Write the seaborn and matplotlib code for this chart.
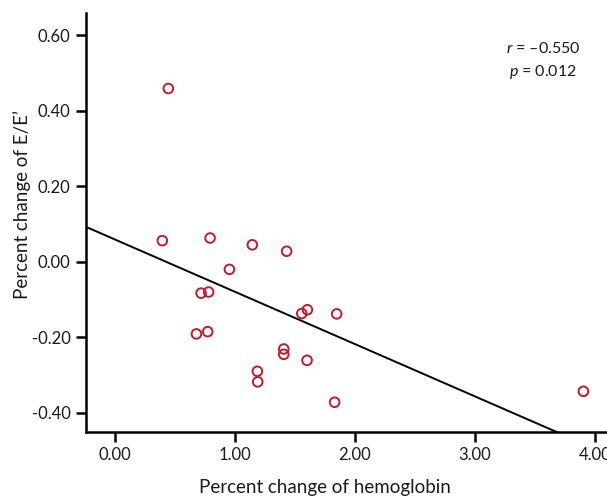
import matplotlib
matplotlib.use("Agg")
import matplotlib.pyplot as plt
import seaborn as sns
import pandas as pd

# Data
hemoglobin_change = [0.444, 0.394, 0.792, 1.144, 1.430, 0.953, 0.717, 0.780, 0.678, 0.772,
                     1.186, 1.189, 1.406, 1.406, 1.556, 1.603, 1.847, 1.600, 1.830, 3.903]
ee_change = [0.459, 0.056, 0.063, 0.045, 0.028, -0.020, -0.083, -0.080, -0.191, -0.185,
             -0.290, -0.318, -0.231, -0.245, -0.137, -0.127, -0.138, -0.261, -0.372, -0.343]
x_ticks = [0.0, 1.0, 2.0, 3.0, 4.0]
y_ticks = [-0.40, -0.20, 0.00, 0.20, 0.40, 0.60]
annotation = "$r$ = \u20130.550\n$p$ = 0.012"

df = pd.DataFrame({"hb": hemoglobin_change, "ee": ee_change})

sns.set_theme(style="white")
plt.rcParams["font.family"] = ["Lato", "DejaVu Sans"]
plt.rcParams["mathtext.fontset"] = "custom"
plt.rcParams["mathtext.it"] = "Lato:italic"
plt.rcParams["mathtext.rm"] = "Lato"

W, H = 607, 499
fig = plt.figure(figsize=(W / 100, H / 100), dpi=100)
left, right, top, bottom = 86, 607, 13, 431.7
ax = fig.add_axes([left / W, 1 - bottom / H, (right - left) / W, (bottom - top) / H])

ax.set_xlim(-0.242, 4.1)
ax.set_ylim(-0.450, 0.659)

sns.regplot(data=df, x="hb", y="ee", ax=ax, ci=None, truncate=False,
            marker="o",
            scatter_kws=dict(s=48, facecolors="none", edgecolors="#c41a30", linewidths=1.4,
                             alpha=1, zorder=3),
            line_kws=dict(color="black", linewidth=1.4, zorder=2))

ax.set_xlim(-0.242, 4.1)
ax.set_ylim(-0.450, 0.659)
ax.set_xticks(x_ticks)
ax.set_xticklabels([f"{v:.2f}" for v in x_ticks])
ax.set_yticks(y_ticks)
ax.set_yticklabels([f"{v:.2f}" for v in y_ticks])

for s in ["top", "right"]:
    ax.spines[s].set_visible(False)
for s in ["left", "bottom"]:
    ax.spines[s].set_linewidth(1.8)
    ax.spines[s].set_color("black")

ax.tick_params(axis="both", which="major", direction="out", length=7, width=1.8,
               color="black", labelsize=12, labelcolor="#1a1a1a", pad=4, bottom=True, left=True)

ax.set_xlabel("Percent change of hemoglobin", fontsize=13.5, color="#1a1a1a")
ax.set_ylabel("Percent change of E/E\u2019", fontsize=13.5, color="#1a1a1a")
ax.xaxis.set_label_coords((325 - left) / (right - left), -(487 - bottom) / (bottom - top), transform=ax.transAxes)
ax.yaxis.set_label_coords((22 - left) / (right - left), (bottom - 205) / (bottom - top), transform=ax.transAxes)
ax.xaxis.label.set_va("center")
ax.yaxis.label.set_va("center")

fig.text(543 / W, 1 - 61 / H, annotation, ha="center", va="center", fontsize=11.5,
         color="#1a1a1a", linespacing=1.5)

fig.savefig("out.png", dpi=100)
